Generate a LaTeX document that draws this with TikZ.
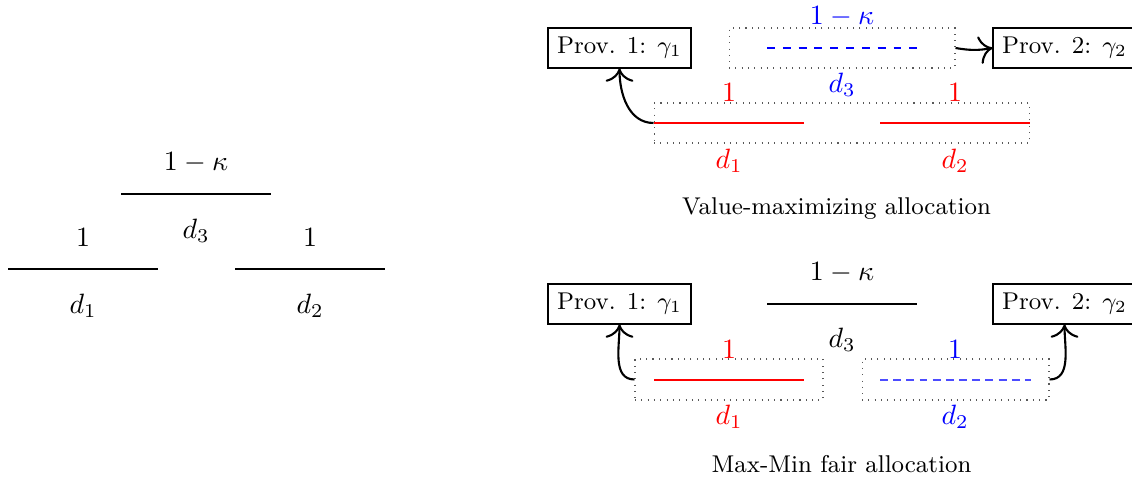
\RequirePackage{fix-cm}
\documentclass[tikz,border=0pt]{standalone}
\usetikzlibrary{arrows.meta}
\begin{document}
\begin{tikzpicture}[x=0.013333cm,y=-0.013333cm,
  seg/.style={thick},
  prov/.style={draw, thin, minimum width=1.907cm, minimum height=0.533cm, inner sep=0pt, font=\fontsize{9.2}{11}\selectfont},
  dotbox/.style={draw=black!65, dotted, inner sep=0pt, minimum height=0.533cm},
  arr/.style={-{To[scale=1.5]}, thick},
  lbl/.style={inner sep=0pt, font=\fontsize{10.6}{12.5}\selectfont},
  captext/.style={font=\fontsize{9.2}{11}\selectfont}]
\path[use as bounding box] (0,0) rectangle (1132,479);

% ---------- left panel ----------
\draw[seg] (8,269) -- (158,269);
\node[lbl] (l1t) at (83,238) {$1$};
\node[lbl] (l1b) at (83,306) {$d_1$};
\draw[seg] (121,194) -- (271,194);
\node[lbl] (l3t) at (196,163) {$1-\kappa$};
\node[lbl] (l3b) at (196,231) {$d_3$};
\draw[seg] (235,269) -- (385,269);
\node[lbl] (l2t) at (310,238) {$1$};
\node[lbl] (l2b) at (310,306) {$d_2$};

% ---------- top right panel ----------
\node[prov] (p1a) at (619.5,48) {Prov. 1: $\gamma_1$};
\node[prov] (p2a) at (1064.5,48) {Prov. 2: $\gamma_2$};
\node[dotbox, minimum width=3.013cm] (b3a) at (842,48) {};
\draw[blue, thick, dashed] (767,48) -- (917,48);
\node[lbl, blue] (t3t) at (842,16.5) {$1-\kappa$};
\node[lbl, blue] (t3b) at (842,85) {$d_3$};
\node[dotbox, minimum width=5.013cm] (r12a) at (842,123) {};
\draw[red, thick] (654,123) -- (804,123);
\draw[red, thick] (880,123) -- (1030,123);
\node[lbl, red] (t1t) at (729,92.5) {$1$};
\node[lbl, red] (t1b) at (729,161) {$d_1$};
\node[lbl, red] (t2t) at (955,92.5) {$1$};
\node[lbl, red] (t2b) at (955,161) {$d_2$};
\draw[arr] (r12a.west) to[out=180, in=-90] (p1a.south);
\draw[arr] (b3a.east) to[bend right=10] (p2a.west);
\node[captext] (cap1) at (836.5,208.5) {Value-maximizing allocation};

% ---------- bottom right panel ----------
\node[prov] (p1b) at (619.5,304) {Prov. 1: $\gamma_1$};
\node[prov] (p2b) at (1064.5,304) {Prov. 2: $\gamma_2$};
\draw[seg] (767,304) -- (917,304);
\node[lbl] (u3t) at (842,272.5) {$1-\kappa$};
\node[lbl] (u3b) at (842,340) {$d_3$};
\node[dotbox, minimum width=2.507cm, minimum height=0.547cm] (r1b) at (729,379.5) {};
\draw[red, thick] (654,380) -- (804,380);
\node[lbl, red] (u1t) at (729,349.5) {$1$};
\node[lbl, red] (u1b) at (729,417) {$d_1$};
\node[dotbox, minimum width=2.493cm, minimum height=0.547cm] (b2b) at (955.5,379.5) {};
\draw[blue!70, densely dashed] (880,380) -- (1031,380);
\node[lbl, blue] (u2t) at (955,349.5) {$1$};
\node[lbl, blue] (u2b) at (955,417) {$d_2$};
\draw[arr] (r1b.west) to[out=180, in=-90] (p1b.south);
\draw[arr] (b2b.east) to[out=0, in=-90] (p2b.south);
\node[captext] (cap2) at (841.5,464) {Max-Min fair allocation};
\end{tikzpicture}
\end{document}
